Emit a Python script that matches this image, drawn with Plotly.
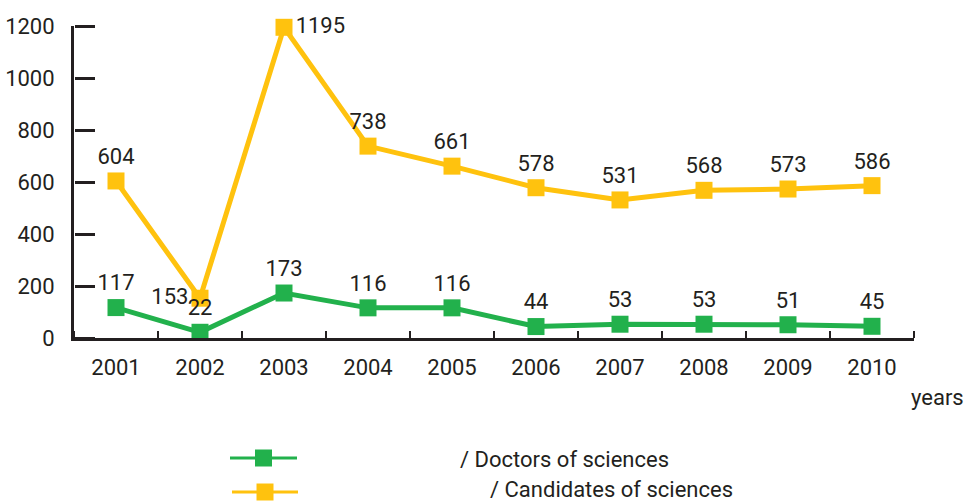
import plotly.graph_objects as go

# ─── data ─────────────────────────────────────────────────────────────────────
years      = ["2001", "2002", "2003", "2004", "2005", "2006", "2007", "2008", "2009", "2010"]
doctors    = [117, 22, 173, 116, 116, 44, 53, 53, 51, 45]
candidates = [604, 153, 1195, 738, 661, 578, 531, 568, 573, 586]
y_ticks    = [0, 200, 400, 600, 800, 1000, 1200]

GREEN  = "#22B14C"
YELLOW = "#FFC20E"
INK    = "#231F20"
FONT   = "Roboto, sans-serif"
FS     = 22

# plot area in pixels (for placing the hand-made legend)
L, R, T, B = 74, 914, 26, 338
def px(x): return (x - L) / (R - L)
def py(y): return (B - y) / (B - T)

cand_pos = ["top center"] * len(years)
cand_pos[1] = "middle left"
cand_pos[2] = "middle right"
doc_pos = ["top center"] * len(years)

fig = go.Figure()

fig.add_trace(go.Scatter(
    x=years, y=candidates,
    mode="lines+markers+text",
    line=dict(color=YELLOW, width=5),
    marker=dict(symbol="square", size=17, color=YELLOW),
    text=[str(v) for v in candidates],
    textposition=cand_pos,
    textfont=dict(size=FS, color=INK, family=FONT),
    cliponaxis=False,
    showlegend=False,
))

fig.add_trace(go.Scatter(
    x=years, y=doctors,
    mode="lines+markers+text",
    line=dict(color=GREEN, width=5),
    marker=dict(symbol="square", size=17, color=GREEN),
    text=[str(v) for v in doctors],
    textposition=doc_pos,
    textfont=dict(size=FS, color=INK, family=FONT),
    cliponaxis=False,
    showlegend=False,
))

# invisible copy on the second axes pair, so the tick-only axes get categories
fig.add_trace(go.Scatter(
    x=years, y=doctors, xaxis="x2", yaxis="y2",
    mode="markers", marker=dict(opacity=0), hoverinfo="skip", showlegend=False,
))

# ─── hand-made legend ─────────────────────────────────────────────────────────
shapes = []
for color, x0, x1, yc in [(GREEN, 230, 297, 458), (YELLOW, 232, 298, 492)]:
    shapes.append(dict(type="line", xref="paper", yref="paper",
                       x0=px(x0), x1=px(x1), y0=py(yc), y1=py(yc),
                       line=dict(color=color, width=3)))
    xc = (x0 + x1) / 2
    shapes.append(dict(type="rect", xref="paper", yref="paper",
                       x0=px(xc - 8.5), x1=px(xc + 8.5),
                       y0=py(yc + 8.5), y1=py(yc - 8.5),
                       fillcolor=color, line=dict(width=0)))

annotations = [
    dict(text="/ Doctors of sciences", xref="paper", yref="paper",
         x=px(458), y=py(459), xanchor="left", yanchor="middle", showarrow=False),
    dict(text="/ Candidates of sciences", xref="paper", yref="paper",
         x=px(488), y=py(489), xanchor="left", yanchor="middle", showarrow=False),
    dict(text="years", xref="paper", yref="paper",
         x=px(966), y=py(397), xanchor="right", yanchor="middle", showarrow=False),
]

fig.update_layout(
    width=969, height=502,
    margin=dict(l=L, r=969 - R, t=T, b=502 - B, autoexpand=False),
    paper_bgcolor="white",
    plot_bgcolor="white",
    font=dict(family=FONT, size=FS, color=INK),
    shapes=shapes,
    annotations=annotations,
    xaxis=dict(
        type="category", range=[-0.5, 9.5], automargin=False,
        showline=True, linecolor=INK, linewidth=3,
        ticks="", showgrid=False, zeroline=False,
        ticklabelstandoff=8,
    ),
    yaxis=dict(
        range=[0, 1200], tickvals=y_ticks, automargin=False,
        showline=True, linecolor=INK, linewidth=3,
        ticks="", showgrid=False, zeroline=False,
        ticklabelstandoff=12,
    ),
    # tick-only axes sitting on the main axis lines, ticks pointing into the plot
    xaxis2=dict(
        type="category", range=[-0.5, 9.5], overlaying="x", side="top",
        anchor="free", position=0, automargin=False,
        ticks="outside", tickson="boundaries", ticklen=7, tickwidth=2, tickcolor=INK,
        showticklabels=False, showgrid=False, zeroline=False, showline=False,
    ),
    yaxis2=dict(
        range=[0, 1200], tickvals=y_ticks, overlaying="y", side="right",
        anchor="free", position=0, automargin=False,
        ticks="outside", ticklen=20, tickwidth=3, tickcolor=INK,
        showticklabels=False, showgrid=False, zeroline=False, showline=False,
    ),
)

# drop the browser's default 8px body margin so the figure fills the window
fig.write_html("out.html", config={"displayModeBar": False},
               post_script="document.body.style.margin='0px';")
